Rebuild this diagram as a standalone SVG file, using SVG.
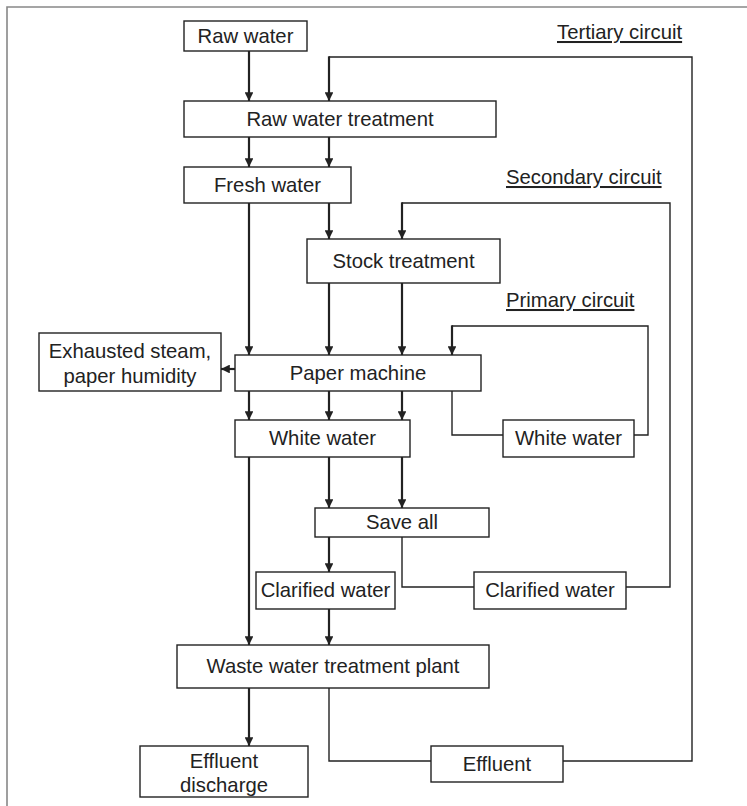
<svg xmlns="http://www.w3.org/2000/svg" width="747" height="806" viewBox="0 0 747 806">
<style>
.box{fill:#fff;stroke:#222;stroke-width:1.4}
.t{font-family:"Liberation Sans",Arial,sans-serif;font-size:20.3px;fill:#222;text-anchor:middle}
.lbl{font-family:"Liberation Sans",Arial,sans-serif;font-size:20.3px;fill:#222;text-decoration:underline}
.a{fill:none;stroke:#222;stroke-width:2.2;marker-end:url(#ah)}
.l{fill:none;stroke:#222;stroke-width:1.4}
</style>
<defs>
<marker id="ah" viewBox="0 0 10 10" refX="10" refY="5" markerWidth="4" markerHeight="4" orient="auto" markerUnits="strokeWidth">
<path d="M0,0 L10,5 L0,10 z" fill="#222"/>
</marker>
</defs>
<rect x="0" y="0" width="747" height="806" fill="#fff"/>
<path d="M7,820 V7 H760" fill="none" stroke="#888" stroke-width="1.6"/>

<g id="labels">
<text class="lbl" x="557" y="39">Tertiary circuit</text>
<text class="lbl" x="506" y="184">Secondary circuit</text>
<text class="lbl" x="506" y="307">Primary circuit</text>
</g>

<g id="connectors">
<path class="a" d="M249,51 V101"/>
<path class="l" d="M563,761 H692 V57 H329"/>
<path class="a" d="M329,56.3 V101"/>
<path class="a" d="M249,137 V167"/>
<path class="a" d="M329,137 V167"/>
<path class="a" d="M249,203 V355"/>
<path class="a" d="M329,203 V239"/>
<path class="l" d="M626,587 H670 V203 H402"/>
<path class="a" d="M402,202.3 V239"/>
<path class="a" d="M329,283 V355"/>
<path class="a" d="M402,283 V355"/>
<path class="l" d="M634,435 H648 V326 H452"/>
<path class="a" d="M452,325.3 V355"/>
<path class="a" d="M235,369 H221"/>
<path class="a" d="M249,391 V420"/>
<path class="a" d="M329,391 V420"/>
<path class="a" d="M402,391 V420"/>
<path class="l" d="M452,391 V435 H503"/>
<path class="a" d="M249,457 V645"/>
<path class="a" d="M329,457 V508"/>
<path class="a" d="M402,457 V508"/>
<path class="a" d="M329,537 V572"/>
<path class="l" d="M402,537 V587 H474"/>
<path class="a" d="M329,609 V645"/>
<path class="a" d="M249,688 V746"/>
<path class="l" d="M329,688 V761 H431"/>
</g>

<g id="raw-water"><rect class="box" x="184" y="21" width="123" height="30"/><text class="t" x="245.5" y="43">Raw water</text></g>
<g id="raw-water-treatment"><rect class="box" x="184" y="101" width="312" height="36"/><text class="t" x="340" y="126">Raw water treatment</text></g>
<g id="fresh-water"><rect class="box" x="184" y="167" width="167" height="36"/><text class="t" x="267.5" y="192">Fresh water</text></g>
<g id="stock-treatment"><rect class="box" x="307" y="239" width="193" height="44"/><text class="t" x="403.5" y="268">Stock treatment</text></g>
<g id="exhausted-steam"><rect class="box" x="39" y="333" width="182" height="58"/><text class="t" x="130" y="358">Exhausted steam,</text><text class="t" x="130" y="383">paper humidity</text></g>
<g id="paper-machine"><rect class="box" x="235" y="355" width="246" height="36"/><text class="t" x="358" y="380">Paper machine</text></g>
<g id="white-water"><rect class="box" x="235" y="420" width="175" height="37"/><text class="t" x="322.5" y="445">White water</text></g>
<g id="white-water-primary"><rect class="box" x="503" y="420" width="131" height="37"/><text class="t" x="568.5" y="445">White water</text></g>
<g id="save-all"><rect class="box" x="315" y="508" width="174" height="29"/><text class="t" x="402" y="529">Save all</text></g>
<g id="clarified-water"><rect class="box" x="256" y="572" width="139" height="37"/><text class="t" x="325.5" y="597">Clarified water</text></g>
<g id="clarified-water-secondary"><rect class="box" x="474" y="572" width="152" height="37"/><text class="t" x="550" y="597">Clarified water</text></g>
<g id="waste-water-treatment-plant"><rect class="box" x="177" y="645" width="312" height="43"/><text class="t" x="333" y="673">Waste water treatment plant</text></g>
<g id="effluent-discharge"><rect class="box" x="140" y="746" width="168" height="51"/><text class="t" x="224" y="768">Effluent</text><text class="t" x="224" y="792">discharge</text></g>
<g id="effluent"><rect class="box" x="431" y="746" width="132" height="36"/><text class="t" x="497" y="771">Effluent</text></g>
</svg>
